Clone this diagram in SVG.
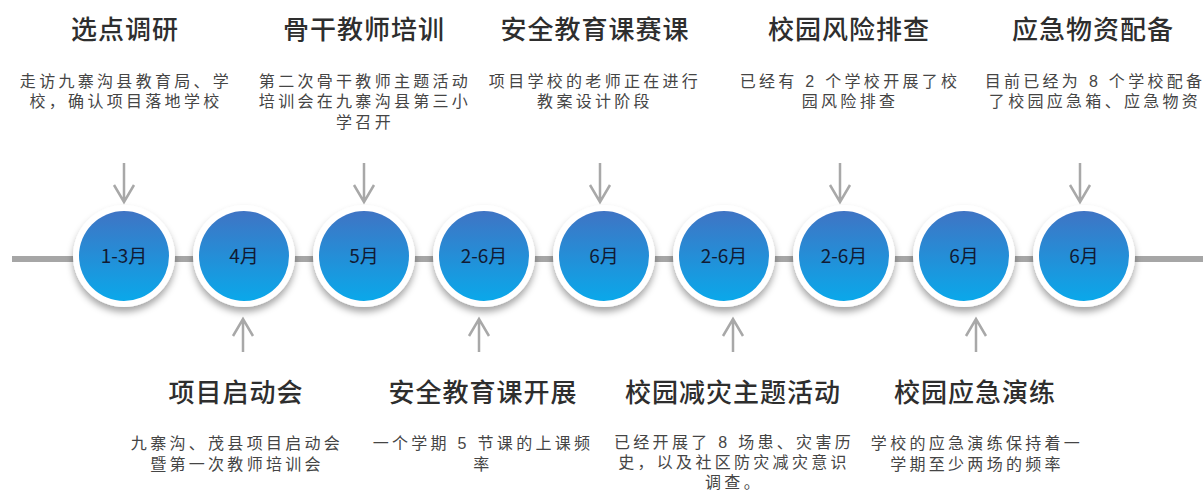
<svg xmlns="http://www.w3.org/2000/svg" width="1203" height="493" viewBox="0 0 1203 493">
<defs>
<linearGradient id="blue" x1="0" y1="0" x2="0" y2="1">
<stop offset="0" stop-color="#3f74c4"/>
<stop offset="1" stop-color="#0aa8ea"/>
</linearGradient>
<filter id="sh" x="-30%" y="-30%" width="160%" height="170%">
<feDropShadow dx="0" dy="5" stdDeviation="3.5" flood-color="#000" flood-opacity="0.35"/>
</filter>
<g id="dot">
<circle r="51" fill="#fff" filter="url(#sh)"/>
<circle r="45" fill="url(#blue)"/>
</g>
</defs>
<style>
.ttl{font-family:"Noto Sans CJK SC","Liberation Sans",sans-serif;font-size:26px;font-weight:500;fill:#2e2e2e;text-anchor:middle;letter-spacing:1px}
.dsc{font-family:"Liberation Sans","Noto Sans CJK SC",sans-serif;font-size:16px;fill:#454545;text-anchor:middle;letter-spacing:3.3px}
.lbl{font-family:"Noto Sans CJK SC","Liberation Sans",sans-serif;font-size:19px;fill:#111a33;text-anchor:middle}
.arr{fill:none;stroke:#a8a8a8;stroke-width:2.5}
</style>
<rect width="1203" height="493" fill="#fff"/>
<g id="connectors">
<line x1="12" y1="259" x2="1203" y2="259" stroke="#a6a6a6" stroke-width="6"/>
<path class="arr" d="M124 163V202M114 185L124 202L134 185"/>
<path class="arr" d="M364 163V202M354 185L364 202L374 185"/>
<path class="arr" d="M600 163V202M590 185L600 202L610 185"/>
<path class="arr" d="M840 163V202M830 185L840 202L850 185"/>
<path class="arr" d="M1080 163V202M1070 185L1080 202L1090 185"/>
<path class="arr" d="M243 352V319M233 336L243 319L253 336"/>
<path class="arr" d="M479 352V319M469 336L479 319L489 336"/>
<path class="arr" d="M733 352V319M723 336L733 319L743 336"/>
<path class="arr" d="M976 352V319M966 336L976 319L986 336"/>
</g>
<g id="n1"><use href="#dot" x="124" y="256"/><text class="lbl" x="124" y="263">1-3月</text>
<text class="ttl" x="125" y="39">选点调研</text>
<text class="dsc" x="126" y="87">走访九寨沟县教育局、学</text><text class="dsc" x="126" y="107">校，确认项目落地学校</text></g>
<g id="n2"><use href="#dot" x="244" y="256"/><text class="lbl" x="244" y="263">4月</text>
<text class="ttl" x="236" y="402">项目启动会</text>
<text class="dsc" x="237" y="449">九寨沟、茂县项目启动会</text><text class="dsc" x="237" y="470">暨第一次教师培训会</text></g>
<g id="n3"><use href="#dot" x="364" y="256"/><text class="lbl" x="364" y="263">5月</text>
<text class="ttl" x="364" y="39">骨干教师培训</text>
<text class="dsc" x="365" y="87">第二次骨干教师主题活动</text><text class="dsc" x="365" y="107">培训会在九寨沟县第三小</text><text class="dsc" x="365" y="128">学召开</text></g>
<g id="n4"><use href="#dot" x="484" y="256"/><text class="lbl" x="484" y="263">2-6月</text>
<text class="ttl" x="483" y="402">安全教育课开展</text>
<text class="dsc" x="483" y="449">一个学期 5 节课的上课频</text><text class="dsc" x="483" y="470">率</text></g>
<g id="n5"><use href="#dot" x="604" y="256"/><text class="lbl" x="604" y="263">6月</text>
<text class="ttl" x="595" y="39">安全教育课赛课</text>
<text class="dsc" x="595" y="87">项目学校的老师正在进行</text><text class="dsc" x="595" y="107">教案设计阶段</text></g>
<g id="n6"><use href="#dot" x="724" y="256"/><text class="lbl" x="724" y="263">2-6月</text>
<text class="ttl" x="733" y="402">校园减灾主题活动</text>
<text class="dsc" x="734" y="448">已经开展了 8 场患、灾害历</text><text class="dsc" x="734" y="468">史，以及社区防灾减灾意识</text><text class="dsc" x="734" y="488">调查。</text></g>
<g id="n7"><use href="#dot" x="844" y="256"/><text class="lbl" x="844" y="263">2-6月</text>
<text class="ttl" x="849" y="39">校园风险排查</text>
<text class="dsc" x="850" y="87">已经有 2 个学校开展了校</text><text class="dsc" x="850" y="107">园风险排查</text></g>
<g id="n8"><use href="#dot" x="964" y="256"/><text class="lbl" x="964" y="263">6月</text>
<text class="ttl" x="975" y="402">校园应急演练</text>
<text class="dsc" x="977" y="449">学校的应急演练保持着一</text><text class="dsc" x="977" y="470">学期至少两场的频率</text></g>
<g id="n9"><use href="#dot" x="1084" y="256"/><text class="lbl" x="1084" y="263">6月</text>
<text class="ttl" x="1093" y="39">应急物资配备</text>
<text class="dsc" x="1095" y="87">目前已经为 8 个学校配备</text><text class="dsc" x="1095" y="107">了校园应急箱、应急物资</text></g>
</svg>
